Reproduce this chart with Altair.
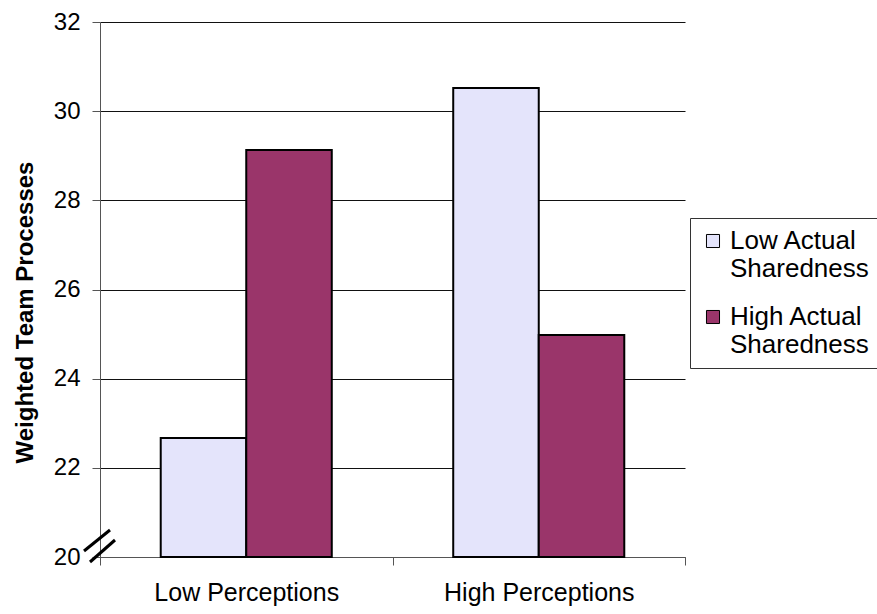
import altair as alt
import pandas as pd

# Group means of weighted team processes
categories = ["Low Perceptions", "High Perceptions"]
series = ["Low Actual Sharedness", "High Actual Sharedness"]
low_actual = [22.67, 30.52]
high_actual = [29.13, 24.98]
y_ticks = [20, 22, 24, 26, 28, 30, 32]
colors = ["#E4E4FB", "#9A356A"]

rows = []
for i, cat in enumerate(categories):
    rows.append({"perception": cat, "sharedness": series[0], "value": low_actual[i]})
    rows.append({"perception": cat, "sharedness": series[1], "value": high_actual[i]})
df = pd.DataFrame(rows)

FONT = "Liberation Sans"
W, H = 585, 535

bars = alt.Chart(df).mark_bar(stroke="black", strokeWidth=2).encode(
    x=alt.X(
        "perception:N",
        sort=categories,
        title=None,
        scale=alt.Scale(paddingInner=0, paddingOuter=0),
        axis=alt.Axis(
            labelAngle=0,
            tickBand="extent",
            tickSize=8,
            tickColor="#555555",
            domainColor="#555555",
            labelPadding=15,
            labelFont=FONT,
            labelFontSize=25,
            labelColor="black",
            labelLimit=400,
            grid=False,
        ),
    ),
    xOffset=alt.XOffset(
        "sharedness:N",
        sort=series,
        scale=alt.Scale(paddingInner=0, paddingOuter=0.71),
    ),
    y=alt.Y(
        "value:Q",
        title="Weighted Team Processes",
        scale=alt.Scale(domain=[20, 32], nice=False, zero=False),
        axis=alt.Axis(
            values=y_ticks,
            tickSize=8,
            tickColor="#555555",
            domainColor="#555555",
            gridColor="#111111",
            gridWidth=1.2,
            labelPadding=12,
            labelFont=FONT,
            labelFontSize=24,
            labelColor="black",
            titleFont=FONT,
            titleFontSize=24,
            titleFontWeight="bold",
            titleColor="black",
            titleAngle=270,
            titleX=-75,
            titleY=290,
            titleAlign="center",
            titleBaseline="middle",
        ),
    ),
    y2=alt.datum(20),
    color=alt.Color(
        "sharedness:N",
        sort=series,
        scale=alt.Scale(domain=series, range=colors),
        legend=alt.Legend(
            title=None,
            orient="none",
            legendX=590,
            legendY=196,
            strokeColor="#333333",
            padding=10,
            symbolType="square",
            symbolSize=170,
            symbolStrokeColor="black",
            symbolStrokeWidth=1,
            labelFont=FONT,
            labelFontSize=26,
            labelColor="black",
            labelLimit=400,
            labelOffset=4,
            rowPadding=22,
            labelExpr="split(replace(datum.label, ' Sharedness', '|Sharedness'), '|')",
        ),
    ),
)

# Axis break marks on the value axis
one = pd.DataFrame({"k": [0]})
break_a = alt.Chart(one).mark_rule(color="black", strokeWidth=3).encode(
    x=alt.value(-16), y=alt.value(529), x2=alt.value(10), y2=alt.value(508)
)
break_b = alt.Chart(one).mark_rule(color="black", strokeWidth=3).encode(
    x=alt.value(-10), y=alt.value(540), x2=alt.value(15), y2=alt.value(518)
)

chart = (
    alt.layer(bars, break_a, break_b)
    .properties(
        width=W,
        height=H,
        autosize=alt.AutoSizeParams(type="none"),
        padding={"left": 100, "top": 22, "right": 192, "bottom": 57},
        background="white",
    )
    .configure_view(stroke=None)
)

chart.save("out.html", embed_options={"renderer": "svg", "actions": False})
